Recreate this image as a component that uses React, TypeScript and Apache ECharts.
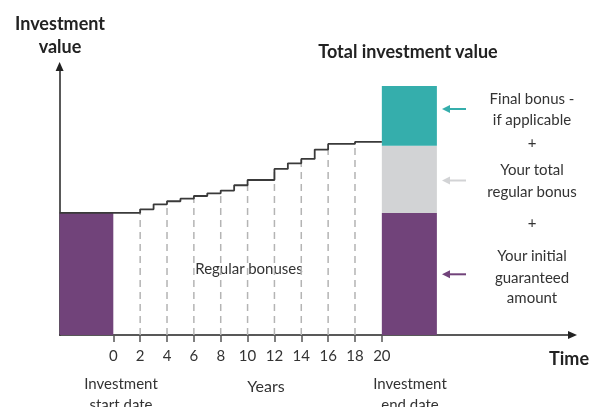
import React, { useEffect, useRef } from "react";
import * as echarts from "echarts";

// ---- data ----
const stepYears = [-4, 2, 3, 4, 5, 6, 7, 8, 9, 10, 12, 13, 14, 15, 16, 18, 20];
const stepValues = [100, 103.0, 107.1, 109.6, 111.7, 113.9, 116.1, 118.3, 122.7, 127.0, 136.1, 140.7, 144.3, 151.9, 156.6, 158.2, 158.2];
const tickYears = [0, 2, 4, 6, 8, 10, 12, 14, 16, 18, 20];
const dashedYears = [2, 4, 6, 8, 10, 12, 14, 16, 18];
const startBlock = [-4, 0];
const endBlock = [20, 24.1];
const initialAmount = 100;
const totalRegularBonus = 55;
const finalBonus = 49;
const annotationLines = [
  "Final bonus -",
  "if applicable",
  "+",
  "Your total",
  "regular bonus",
  "+",
  "Your initial",
  "guaranteed",
  "amount",
];

const PURPLE = "#71437a";
const TEAL = "#35aeac";
const GREY = "#d2d3d5";
const FONT = "Lato";

function valueAt(year: number): number {
  let v = stepValues[0];
  for (let i = 0; i < stepYears.length; i++) {
    if (stepYears[i] <= year) v = stepValues[i];
  }
  return v;
}

export default function App() {
  const ref = useRef<HTMLDivElement>(null);
  useEffect(() => {
    if (!ref.current) return;
    const chart = echarts.init(ref.current, undefined, { renderer: "svg" });

    const blocks = [
      [startBlock[0], startBlock[1], 0, initialAmount, PURPLE],
      [endBlock[0], endBlock[1], 0, initialAmount, PURPLE],
      [endBlock[0], endBlock[1], initialAmount, initialAmount + totalRegularBonus, GREY],
      [endBlock[0], endBlock[1], initialAmount + totalRegularBonus, initialAmount + totalRegularBonus + finalBonus, TEAL],
    ];

    const annY = [97.8, 119.4, 141.7, 169.1, 190.8, 222, 255.1, 276.8, 296.8];

    const txt = (text: string, x: number, y: number, size: number, bold = false, color = "#333") => ({
      type: "text",
      x,
      y,
      silent: true,
      style: {
        text,
        fill: color,
        font: `${bold ? "bold " : ""}${size}px ${FONT}`,
        align: "center",
        verticalAlign: "middle",
      },
    });

    const arrow = (y: number, color: string) => ({
      type: "group",
      children: [
        { type: "line", shape: { x1: 449, y1: y, x2: 466, y2: y }, style: { stroke: color, lineWidth: 2 } },
        { type: "polygon", shape: { points: [[442, y], [450, y - 4], [450, y + 4]] }, style: { fill: color } },
      ],
    });

    const graphic: any[] = [
      txt("Investment", 60, 23, 18, true, "#222"),
      txt("value", 60, 45.5, 18, true, "#222"),
      txt("Total investment value", 408, 50.5, 18, true, "#222"),
      txt("Time", 569, 358, 18, true, "#222"),
      txt("Investment", 121, 382.8, 15),
      txt("start date", 121, 403.6, 15),
      txt("Investment", 410, 382.8, 15),
      txt("end date", 410, 403.6, 15),
      txt("Years", 266, 385.8, 16),
      txt("Regular bonuses", 249, 268.3, 15),
      ...annotationLines.map((t, i) => txt(t, 532, annY[i], 15)),
      arrow(109, TEAL),
      arrow(180.5, GREY),
      arrow(274.3, PURPLE),
    ];

    chart.setOption({
      animation: false,
      grid: { left: 59.6, right: 19.5, top: 66.5, bottom: 72 },
      xAxis: {
        type: "value",
        min: -4,
        max: 34.2,
        interval: 2,
        splitLine: { show: false },
        axisLine: {
          show: true,
          onZero: false,
          symbol: ["none", "triangle"],
          symbolSize: [8, 9],
          lineStyle: { color: "#222", width: 1.5 },
        },
        axisTick: { show: true, customValues: tickYears, length: 7, lineStyle: { color: "#555", width: 1.5 } },
        axisLabel: {
          show: true,
          customValues: tickYears,
          margin: 12,
          fontSize: 15,
          fontFamily: FONT,
          color: "#333",
        },
      },
      yAxis: {
        type: "value",
        min: 0,
        max: 220,
        splitLine: { show: false },
        axisLine: {
          show: true,
          onZero: false,
          symbol: ["none", "triangle"],
          symbolSize: [8, 9],
          lineStyle: { color: "#222", width: 1.5 },
        },
        axisTick: { show: false },
        axisLabel: { show: false },
      },
      graphic,
      series: [
        {
          type: "custom",
          z: 1,
          data: blocks,
          encode: { x: [0, 1], y: [2, 3] },
          renderItem: (params: any, api: any) => {
            const x0 = api.value(0), x1 = api.value(1), y0 = api.value(2), y1 = api.value(3);
            const p0 = api.coord([x0, y1]);
            const p1 = api.coord([x1, y0]);
            const color = blocks[params.dataIndex][4] as string;
            return {
              type: "rect",
              shape: { x: p0[0], y: p0[1], width: p1[0] - p0[0], height: p1[1] - p0[1] },
              style: { fill: color },
            };
          },
        },
        {
          type: "custom",
          z: 2,
          data: dashedYears.map((y) => [y, valueAt(y)]),
          renderItem: (params: any, api: any) => {
            const a = api.coord([api.value(0), 0]);
            const b = api.coord([api.value(0), api.value(1)]);
            return {
              type: "line",
              shape: { x1: a[0], y1: a[1], x2: b[0], y2: b[1] },
              style: { stroke: "#b4b4b4", lineWidth: 1.5, lineDash: [7, 5] },
            };
          },
        },
        {
          type: "line",
          z: 3,
          step: "end",
          symbol: "none",
          data: stepYears.map((y, i) => [y, stepValues[i]]),
          lineStyle: { color: "#3a3a3a", width: 1.8 },
        },
      ],
    });
    return () => chart.dispose();
  }, []);
  return <div ref={ref} style={{ position: "fixed", left: 0, top: 0, width: 592, height: 407 }} />;
}
